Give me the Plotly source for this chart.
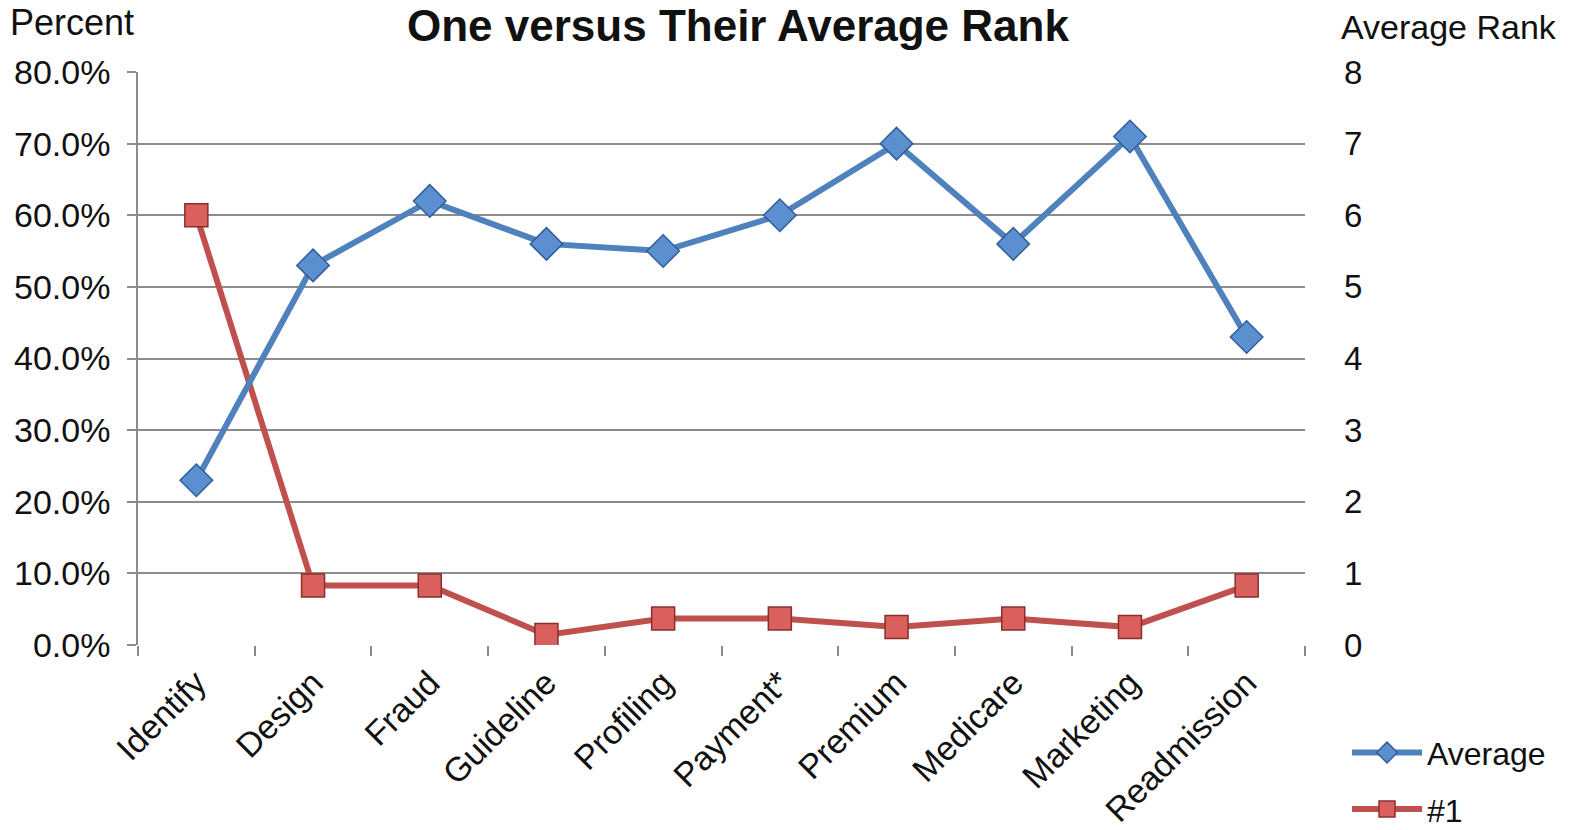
import plotly.graph_objects as go

categories = ["Identify", "Design", "Fraud", "Guideline", "Profiling",
              "Payment*", "Premium", "Medicare", "Marketing", "Readmission"]
average_rank = [2.3, 5.3, 6.2, 5.6, 5.5, 6.0, 7.0, 5.6, 7.1, 4.3]
pct_first = [0.600, 0.083, 0.083, 0.014, 0.037, 0.037, 0.025, 0.037, 0.025, 0.083]

left_ticks = [0, 0.1, 0.2, 0.3, 0.4, 0.5, 0.6, 0.7, 0.8]
right_ticks = [0, 1, 2, 3, 4, 5, 6, 7, 8]

FONT = "Arial, Liberation Sans, sans-serif"
BLUE = "#4F81BD"
RED = "#C0504D"

fig = go.Figure()
fig.add_trace(go.Scatter(
    x=categories, y=average_rank, name="Average", yaxis="y2",
    mode="lines+markers",
    line=dict(color=BLUE, width=6),
    marker=dict(symbol="diamond", size=25, color="#5B8FD0",
                line=dict(color="#2F5F9A", width=1.5)),
    legendgroup="a",
))
fig.add_trace(go.Scatter(
    x=categories, y=pct_first, name="#1", yaxis="y",
    mode="lines+markers",
    line=dict(color=RED, width=6),
    marker=dict(symbol="square", size=23, color="#D9605C",
                line=dict(color="#8B2E2B", width=1.5)),
    legendgroup="b",
))

fig.update_layout(
    width=1579, height=830,
    margin=dict(l=138, r=274, t=72, b=185, autoexpand=False),
    paper_bgcolor="white", plot_bgcolor="white",
    font=dict(family=FONT, size=30, color="#111"),
    showlegend=True,
    legend=dict(x=1.036, xanchor="left", y=-0.14, yanchor="top",
                font=dict(size=32, color="#111"), itemwidth=70,
                tracegroupgap=12, bgcolor="rgba(0,0,0,0)",
                borderwidth=0),
    xaxis=dict(
        type="category", categoryorder="array", categoryarray=categories,
        range=[-0.5, 9.5], tickangle=-45, tickson="boundaries",
        ticks="outside", ticklen=10, tickcolor="#888", tickwidth=1.5,
        showline=False, showgrid=False, zeroline=False, automargin=False,
        tickfont=dict(size=34), ticklabelstandoff=10,
    ),
    yaxis=dict(
        range=[0, 0.8], tickvals=left_ticks, tickformat=".1%",
        showgrid=True, gridcolor="#8c8c8c", gridwidth=1.5,
        showline=True, linecolor="#8c8c8c", linewidth=1.5,
        ticks="outside", ticklen=9, tickcolor="#8c8c8c", tickwidth=1.5,
        zeroline=False, tickfont=dict(size=34), ticklabelstandoff=10,
        automargin=False,
    ),
    yaxis2=dict(
        range=[0, 8], tickvals=right_ticks, overlaying="y", side="right",
        showgrid=False, showline=False, zeroline=False, automargin=False,
        tickfont=dict(size=33), ticklabelstandoff=38,
    ),
)

fig.add_annotation(text="<b>One versus Their Average Rank</b>", xref="paper", yref="paper",
                   x=0.514, y=1.0, yshift=73, xanchor="center", yanchor="top",
                   showarrow=False, font=dict(size=44, color="#111"))
fig.add_annotation(text="Percent", xref="paper", yref="paper",
                   x=-0.1114, y=1.087, xanchor="left", yanchor="middle",
                   showarrow=False, font=dict(size=36, color="#111"))
fig.add_annotation(text="Average Rank", xref="paper", yref="paper",
                   x=1.029, y=1.0785, xanchor="left", yanchor="middle",
                   showarrow=False, font=dict(size=34, color="#111"))

fig.write_html("out.html")
